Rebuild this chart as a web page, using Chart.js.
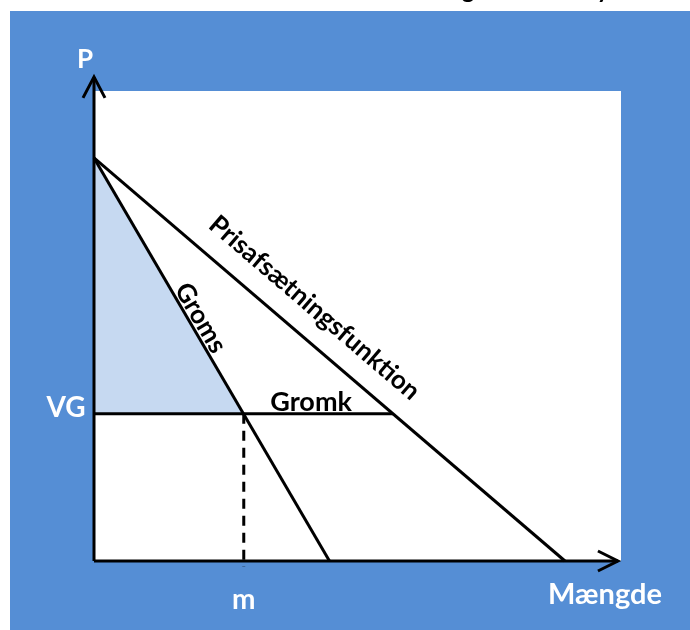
<!DOCTYPE html>
<html><head><meta charset="utf-8">
<script src="https://cdn.jsdelivr.net/npm/chart.js@4/dist/chart.umd.min.js"></script>
<style>html,body{margin:0;padding:0;background:#fff;overflow:hidden}#wrap{width:690px;height:630px}</style>
</head><body><div id="wrap"><canvas id="c" width="690" height="630"></canvas></div>
<script>
// ---- data (quantity Q, price P) ----
const demandQ = [0, 10];          // Prisafsætningsfunktion
const demandP = [10, 0];
const mrQ = [0, 5];               // Groms
const mrP = [10, 0];
const vgQ = [0, 6.35];            // VG / Gromk line
const vgP = [3.65, 3.65];
const mQ = [3.18, 3.18];          // m dashed drop line
const mP = [3.65, -0.15];
const surplusQ = [0, 3.18];       // shaded area under Groms above VG
const surplusP = [10, 3.65];
const yAxisQ = [0, 0];
const yAxisP = [0, 12.01];
const xAxisQ = [0, 11.125];
const xAxisP = [0, 0];
const scaleMax = { q: 11.19, p: 11.66 };

const pts = (xs, ys) => xs.map((x, i) => ({ x: x, y: ys[i] }));

const bgPlugin = {
  id: 'bg',
  beforeDraw(chart) {
    const ctx = chart.ctx, a = chart.chartArea;
    ctx.save();
    ctx.fillStyle = '#ffffff';
    ctx.fillRect(0, 0, chart.width, chart.height);
    ctx.fillStyle = '#558ED5';
    ctx.fillRect(10, 11, chart.width - 10, chart.height - 11);
    ctx.fillStyle = '#ffffff';
    ctx.fillRect(a.left, a.top, a.right - a.left, a.bottom - a.top);
    ctx.restore();
  }
};

const labelPlugin = {
  id: 'labels',
  afterDraw(chart) {
    const ctx = chart.ctx, xs = chart.scales.x, ys = chart.scales.y;
    const px = q => xs.getPixelForValue(q), py = p => ys.getPixelForValue(p);
    ctx.save();
    // arrowheads
    ctx.strokeStyle = '#000'; ctx.lineWidth = 3; ctx.lineJoin = 'miter'; ctx.lineCap = 'butt';
    const tx = px(yAxisQ[1]), ty = py(yAxisP[1]);
    ctx.beginPath(); ctx.moveTo(tx - 11, ty + 21); ctx.lineTo(tx, ty); ctx.lineTo(tx + 11, ty + 21); ctx.stroke();
    const ax = px(xAxisQ[1]), ay = py(xAxisP[1]);
    ctx.beginPath(); ctx.moveTo(ax - 20, ay - 10); ctx.lineTo(ax, ay); ctx.lineTo(ax - 20, ay + 10); ctx.stroke();

    ctx.textAlign = 'center'; ctx.textBaseline = 'middle';
    // white axis labels
    ctx.fillStyle = '#ffffff';
    ctx.font = 'bold 26px Lato';
    ctx.fillText('P', px(0) - 9, 60);
    ctx.font = 'bold 28px Lato';
    ctx.fillText('VG', px(0) - 28, py(vgP[0]) - 6);
    ctx.fillText('m', px(mQ[0]), 600);
    ctx.font = 'bold 29px Lato';
    ctx.fillText('Mængde', 605, 595);

    // rotated line labels
    ctx.fillStyle = '#000000';
    const rot = (text, cx, cy, x1, y1, x2, y2) => {
      const ang = Math.atan2(py(y2) - py(y1), px(x2) - px(x1));
      ctx.save(); ctx.translate(cx, cy); ctx.rotate(ang); ctx.fillText(text, 0, 0); ctx.restore();
    };
    ctx.font = 'bold 26px Lato';
    rot('Groms', px(2.26), py(6.03), mrQ[0], mrP[0], mrQ[1], mrP[1]);
    rot('Prisafsætningsfunktion', px(4.68), py(6.28), demandQ[0], demandP[0], demandQ[1], demandP[1]);
    ctx.font = 'bold 27px Lato';
    ctx.fillText('Gromk', px(4.61), py(3.94));

    // cut-off text fragments at the top
    ctx.textBaseline = 'alphabetic';
    ctx.font = 'bold 24px Lato';
    ctx.fillText('g', 468, -2);
    ctx.fillText('y', 603, -2);
    ctx.restore();
  }
};

const line = (data, extra) => Object.assign({
  data: data, showLine: true, pointRadius: 0, borderColor: '#000000',
  borderWidth: 3, fill: false, tension: 0, clip: false
}, extra || {});

new Chart(document.getElementById('c'), {
  type: 'scatter',
  data: {
    datasets: [
      line(pts(yAxisQ, yAxisP)),
      line(pts(xAxisQ, xAxisP)),
      line(pts(demandQ, demandP)),
      line(pts(mrQ, mrP)),
      line(pts(vgQ, vgP)),
      line(pts(mQ, mP), { borderDash: [10, 7] }),
      line(pts(surplusQ, surplusP), { borderWidth: 0, borderColor: 'rgba(0,0,0,0)', backgroundColor: '#C6D9F1', fill: { value: surplusP[1] }, order: 10 })
    ]
  },
  options: {
    responsive: false, animation: false, devicePixelRatio: 1,
    layout: { padding: { left: 94, top: 91, right: 69, bottom: 69 } },
    plugins: { legend: { display: false }, tooltip: { enabled: false }, title: { display: false } },
    scales: {
      x: { type: 'linear', min: 0, max: scaleMax.q, display: false },
      y: { type: 'linear', min: 0, max: scaleMax.p, display: false }
    }
  },
  plugins: [bgPlugin, labelPlugin]
});
</script>
</body></html>
